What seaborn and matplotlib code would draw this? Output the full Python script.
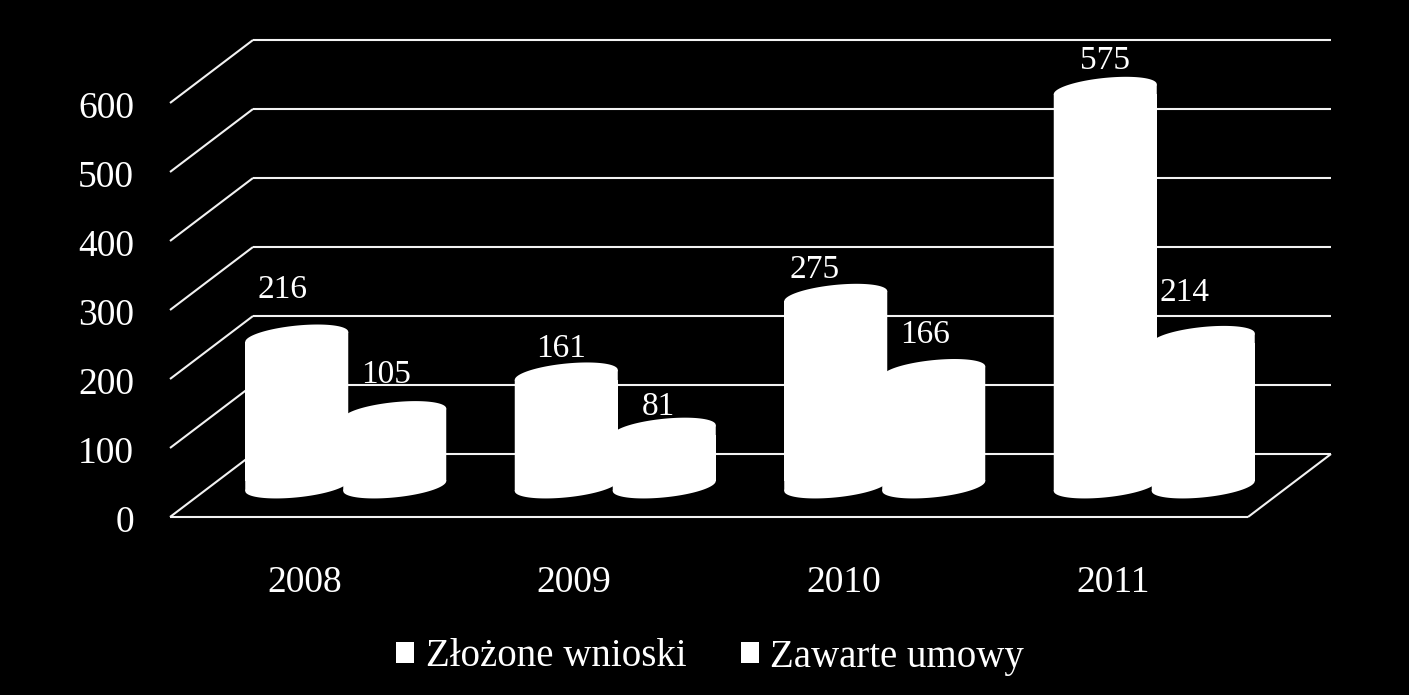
import numpy as np
import pandas as pd
import matplotlib
matplotlib.use("Agg")
import matplotlib.pyplot as plt
from matplotlib.patches import Patch
from matplotlib.transforms import ScaledTranslation
import seaborn as sns

years = ["2008", "2009", "2010", "2011"]
series_names = ["Złożone wnioski", "Zawarte umowy"]
zlozone = [216, 161, 275, 575]
zawarte = [105, 81, 166, 214]
y_ticks = [0, 100, 200, 300, 400, 500, 600]

# hand-placed label shifts of the original, in pixels (same order as the bars)
label_dx = [-14, -5, -21, 0, -9, -6, -9, -19]
label_dy = [35, 14, 14, 16, 26, 11, 24, 33]

W, H = 1409, 695
L, R, B, T = 170, 1248, 517, 40
PX_Y = 100 / 69.0          # value units per pixel
PX_X = 4 / (R - L)         # category units per pixel

sns.set_theme(style="dark", rc={
    "figure.facecolor": "black", "axes.facecolor": "black",
    "axes.grid": False, "text.color": "white",
    "xtick.color": "white", "ytick.color": "white",
})
plt.rcParams["font.family"] = ["Liberation Serif", "DejaVu Sans"]

df = pd.DataFrame({
    "year": years * 2,
    "value": zlozone + zawarte,
    "series": [series_names[0]] * 4 + [series_names[1]] * 4,
})

fig = plt.figure(figsize=(W / 100, H / 100), dpi=100, facecolor="black")
ax = fig.add_axes([L / W, 1 - B / H, (R - L) / W, (B - T) / H])

sns.barplot(data=df, x="year", y="value", hue="series", ax=ax, width=98 * 2 * PX_X,
            palette=["white", "white"], legend=False, errorbar=None,
            saturation=1, linewidth=0, zorder=3)

ax.set_xlim(-0.5, 3.5)
ax.set_ylim(0, (B - T) * PX_Y)
ax.set_xlabel("")
ax.set_ylabel("")
ax.set_yticks(y_ticks)
ax.tick_params(axis="y", length=0, pad=26, labelsize=27)
ax.tick_params(axis="x", length=0, pad=35, labelsize=27)
for s in ax.spines.values():
    s.set_visible(False)
shift = ScaledTranslation(0, -2 / 100, fig.dpi_scale_trans)
for lab in ax.get_yticklabels():
    lab.set_transform(lab.get_transform() + shift)

# 3D frame: back wall, side wall and floor
dx_wall, dy_wall = 83 * PX_X, 63 * PX_Y
line = dict(color="#f2f2f2", lw=1.5, clip_on=False, zorder=1, solid_capstyle="butt")
x0, x1 = -0.5, 3.5
for v in y_ticks:
    ax.plot([x0, x0 + dx_wall], [v, v + dy_wall], **line)
    ax.plot([x0 + dx_wall, x1 + dx_wall], [v + dy_wall, v + dy_wall], **line)
ax.plot([x0, x1], [0, 0], **line)
ax.plot([x1, x1 + dx_wall], [0, dy_wall], **line)

# cylinders: seaborn bars moved into the depth of the floor, with sheared elliptical caps
dx_bar, dy_bar = 41 * PX_X, 31 * PX_Y
bar_w = 103 * PX_X
skew = 5 * PX_Y
t = np.linspace(0, 2 * np.pi, 160)


def cap(cx, cy):
    xs = cx + bar_w / 2 * np.cos(t)
    ys = cy + 11.4 * PX_Y * np.sin(t) + skew * np.cos(t)
    ax.fill(xs, ys, color="white", lw=0, clip_on=False, zorder=3)


for i, p in enumerate(ax.patches):
    cx = p.get_x() + p.get_width() / 2 + dx_bar
    h = p.get_height()
    p.set_x(cx - bar_w / 2)
    p.set_width(bar_w)
    p.set_y(dy_bar + skew)
    p.set_height(h - 2 * skew)
    p.set_clip_on(False)
    cap(cx, dy_bar)
    cap(cx, dy_bar + h)
    # slanted side pieces joining the caps to the straight body
    xl, xr = cx - bar_w / 2, cx + bar_w / 2
    ax.fill([xl, xr, xr, xl], [dy_bar - skew, dy_bar + skew, dy_bar + h + skew, dy_bar + h - skew],
            color="white", lw=0, clip_on=False, zorder=3)
    ax.text(cx + label_dx[i] * PX_X, dy_bar + h + (12.5 + label_dy[i]) * PX_Y,
            f"{int(h)}", ha="center", va="center", fontsize=24, color="white", zorder=4)

handles = [Patch(facecolor="white", edgecolor="none", label=n) for n in series_names]
fig.legend(handles=handles, loc="center", bbox_to_anchor=(710 / W, 1 - 657 / H), ncol=2,
           frameon=False, fontsize=28, handlelength=0.46, handleheight=0.46,
           handletextpad=0.3, columnspacing=1.4, labelcolor="white")

fig.savefig("out.png", dpi=100, facecolor="black")
